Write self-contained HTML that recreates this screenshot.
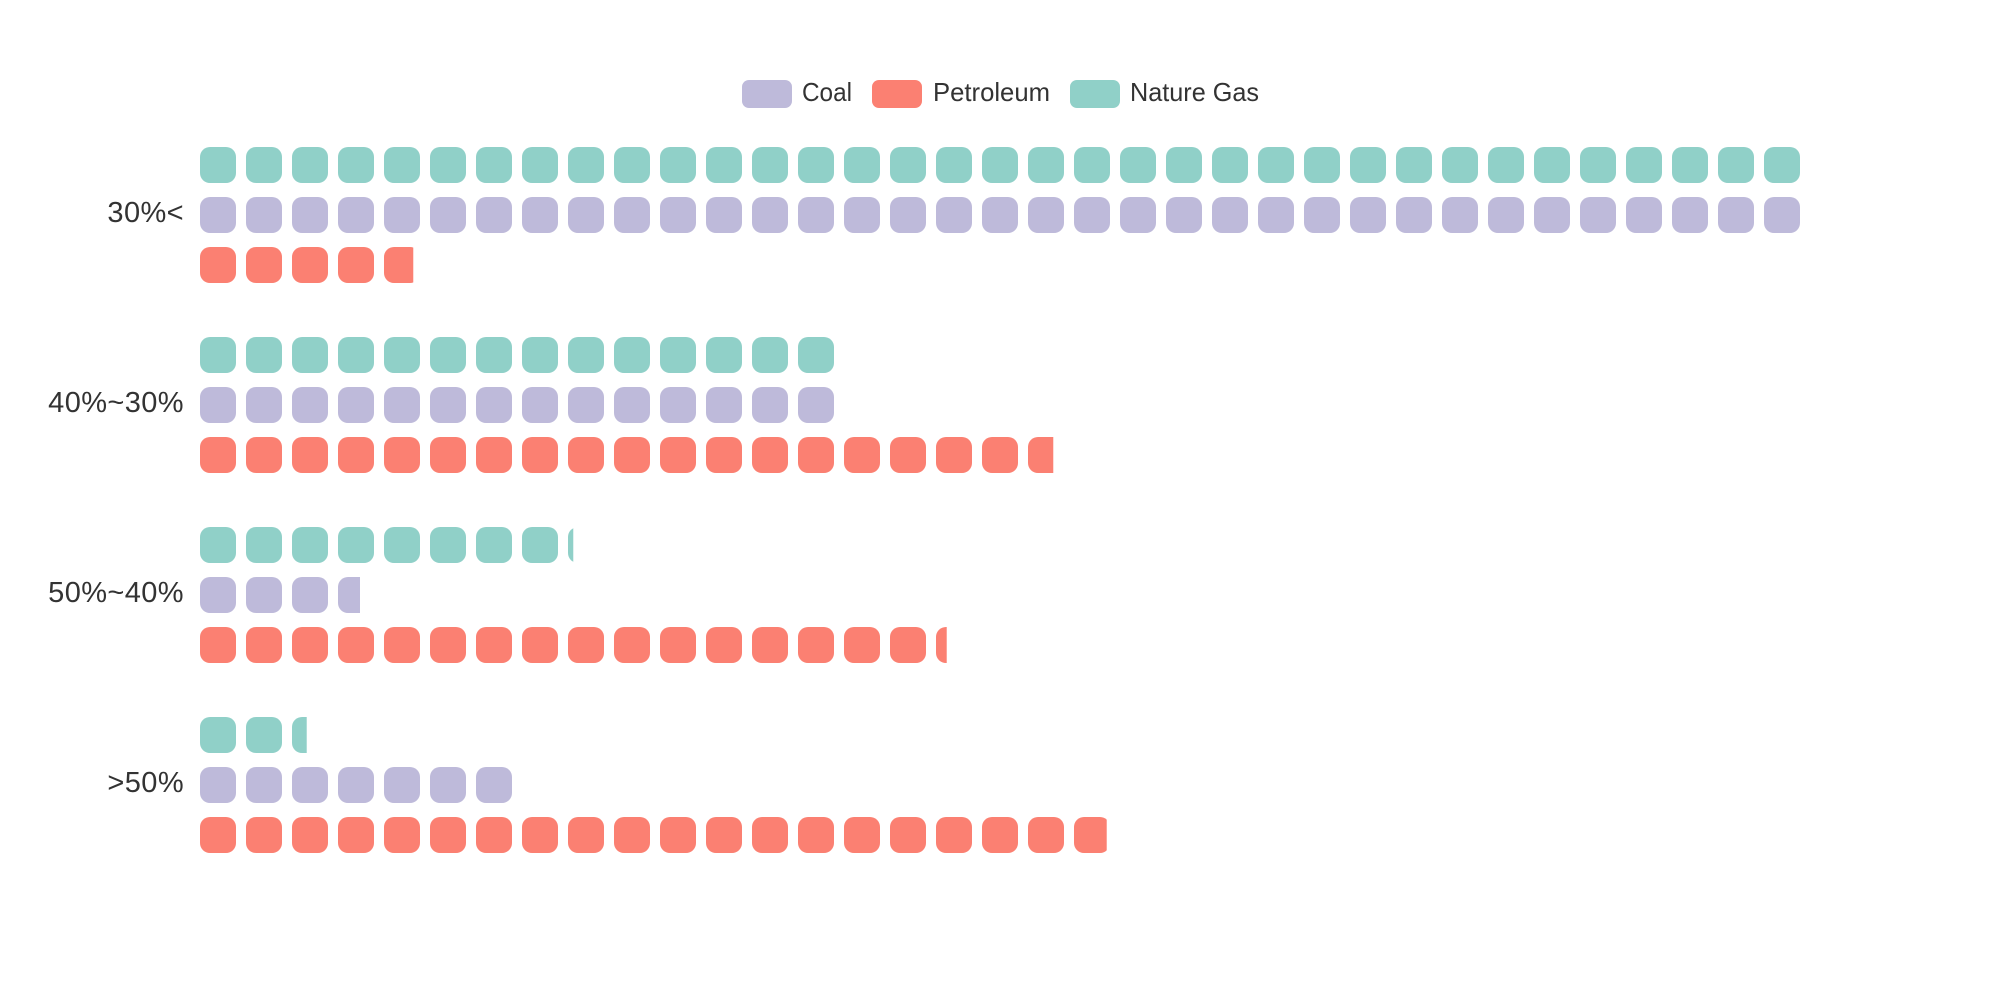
<!DOCTYPE html>
<html lang="en">
<head>
<meta charset="utf-8">
<title>Pictorial bar chart</title>
<style>
  html, body { margin: 0; padding: 0; background: #ffffff; }
  svg { display: block; }
  text { font-family: "Liberation Sans", sans-serif; fill: #333333; }
</style>
</head>
<body>
<svg id="chart" xmlns="http://www.w3.org/2000/svg" width="2000" height="1000" viewBox="0 0 2000 1000">
  <rect x="0" y="0" width="2000" height="1000" fill="#ffffff"></rect>
  <g id="legend">
    <g>
      <rect x="742" y="80" width="50" height="28" rx="7" fill="#bebada"></rect>
      <text x="802" y="101" font-size="26" textLength="50" lengthAdjust="spacingAndGlyphs">Coal</text>
    </g>
    <g>
      <rect x="872" y="80" width="50" height="28" rx="7" fill="#fb8072"></rect>
      <text x="933" y="101" font-size="26" textLength="117" lengthAdjust="spacingAndGlyphs">Petroleum</text>
    </g>
    <g>
      <rect x="1070" y="80" width="50" height="28" rx="7" fill="#90d0c8"></rect>
      <text x="1130" y="101" font-size="26" textLength="129" lengthAdjust="spacingAndGlyphs">Nature Gas</text>
    </g>
  </g>
  <defs id="clips"></defs>
  <g id="y-axis"></g>
  <g id="bars"></g>
</svg>
<script>
const categories = ['30%<', '40%~30%', '50%~40%', '>50%'];
const natureGasValues = [100, 40, 23.33, 6.67];
const coalValues = [100, 40, 10, 20];
const petroleumValues = [13.33, 53.33, 46.67, 56.67];

const SVG_NS = 'http://www.w3.org/2000/svg';
const plotLeft = 200;
const plotWidth = 1600;
const axisMax = 100;
const firstBandTop = 147;
const bandStep = 190;
const barStep = 50;
const symbolSize = 36;
const symbolPitch = 46;
const symbolRadius = 10;

const seriesList = [
  { key: 'nature-gas', color: '#90d0c8', values: natureGasValues },
  { key: 'coal', color: '#bebada', values: coalValues },
  { key: 'petroleum', color: '#fb8072', values: petroleumValues }
];

function xScale(value) {
  return plotLeft + (value / axisMax) * plotWidth;
}
function bandTop(categoryIndex) {
  return firstBandTop + categoryIndex * bandStep;
}
function barTop(categoryIndex, seriesIndex) {
  return bandTop(categoryIndex) + seriesIndex * barStep;
}

const clips = document.getElementById('clips');
const barsLayer = document.getElementById('bars');
const axisLayer = document.getElementById('y-axis');

categories.forEach(function (category, categoryIndex) {
  const label = document.createElementNS(SVG_NS, 'text');
  
  
  label.setAttribute('x', plotLeft - 16);
  label.setAttribute('y', barTop(categoryIndex, 1) + symbolSize / 2 + 7);
  label.setAttribute('font-size', '29');
  label.setAttribute('letter-spacing', '0.4');
  label.setAttribute('text-anchor', 'end');
  label.textContent = category;
  axisLayer.appendChild(label);

  seriesList.forEach(function (series, seriesIndex) {
    const value = series.values[categoryIndex];
    const top = barTop(categoryIndex, seriesIndex);
    const barWidth = xScale(value) - xScale(0);
    const clipId = 'clip-' + series.key + '-' + categoryIndex;

    const clip = document.createElementNS(SVG_NS, 'clipPath');
    clip.setAttribute('id', clipId);
    const clipRect = document.createElementNS(SVG_NS, 'rect');
    clipRect.setAttribute('x', xScale(0));
    clipRect.setAttribute('y', top);
    clipRect.setAttribute('width', barWidth);
    clipRect.setAttribute('height', symbolSize);
    clip.appendChild(clipRect);
    clips.appendChild(clip);

    const bar = document.createElementNS(SVG_NS, 'g');
    
    
    bar.setAttribute('data-series', series.key);
    bar.setAttribute('data-category', category);
    bar.setAttribute('clip-path', 'url(#' + clipId + ')');

    const symbolCount = Math.ceil(barWidth / symbolPitch);
    for (let i = 0; i < symbolCount; i++) {
      const symbol = document.createElementNS(SVG_NS, 'rect');
      
      
      symbol.setAttribute('x', xScale(0) + i * symbolPitch);
      symbol.setAttribute('y', top);
      symbol.setAttribute('width', symbolSize);
      symbol.setAttribute('height', symbolSize);
      symbol.setAttribute('rx', symbolRadius);
      symbol.setAttribute('fill', series.color);
      bar.appendChild(symbol);
    }
    barsLayer.appendChild(bar);
  });
});
</script>
</body>
</html>
